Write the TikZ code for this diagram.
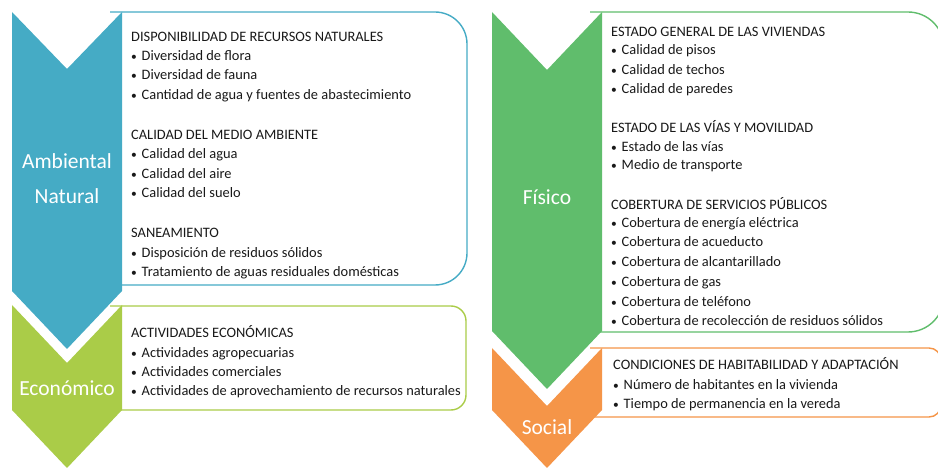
\documentclass[tikz,border=0pt]{standalone}
\usepackage{fontspec}
\setmainfont{Carlito}
\definecolor{cblue}{RGB}{69,171,197}
\definecolor{clime}{RGB}{170,204,72}
\definecolor{cgreen}{RGB}{96,189,108}
\definecolor{corange}{RGB}{245,149,72}
\definecolor{ctext}{RGB}{25,25,25}
\newcommand{\bl}{\makebox[10.5pt][l]{\raisebox{0.6pt}{\fontsize{11.5}{12}\selectfont •}}}
\tikzset{
  txt/.style={anchor=base west, inner sep=0pt, text=ctext, font=\fontsize{14.4}{17}\selectfont},
  lbl/.style={anchor=base, inner sep=0pt, text=white, font=\fontsize{21.5}{24}\selectfont},
  infobox/.style={fill=white, line width=1.4pt},
  chev/.style={draw=none}
}
\begin{document}
\begin{tikzpicture}[x=1pt,y=-1pt]
\useasboundingbox (0,0) rectangle (938,470);
\clip (0,0) rectangle (938,470);
% boxes
\draw[infobox, draw=cblue, rounded corners=32] (110,12) -- (467,12) -- (467,285) -- (110,285);
\draw[infobox, draw=clime, rounded corners=15] (110,306) -- (466,306) -- (466,410) -- (110,410);
\draw[infobox, draw=cgreen, rounded corners=36] (590,12) -- (944,12) -- (944,332) -- (590,332);
\draw[infobox, draw=corange, rounded corners=12] (590,348) -- (941,348) -- (941,417) -- (590,417);
% chevrons
\fill[cblue] (12,12) -- (67,69) -- (122,12) -- (122,291) -- (67,349) -- (12,291) -- cycle;
\fill[clime] (12,305) -- (67,363) -- (122,305) -- (122,410) -- (67,468) -- (12,410) -- cycle;
\fill[cgreen] (492,12) -- (547,70) -- (602,12) -- (602,331) -- (547,389) -- (492,331) -- cycle;
\fill[corange] (492,348) -- (547,406) -- (602,348) -- (602,410) -- (547,468) -- (492,410) -- cycle;
% labels
\node[lbl] (lamb) at (67,169) {Ambiental};
\node[lbl] (lnat) at (67,204) {Natural};
\node[lbl] (leco) at (67,396) {Económico};
\node[lbl] (lfis) at (547,205) {Físico};
\node[lbl] (lsoc) at (547,435) {Social};
% left top box text
\foreach \yy/\lab [count=\i] in {
  37/{DISPONIBILIDAD DE RECURSOS NATURALES},
  56/{\bl Diversidad de flora},
  75/{\bl Diversidad de fauna},
  95/{\bl Cantidad de agua y fuentes de abastecimiento},
  135/{CALIDAD DEL MEDIO AMBIENTE},
  154/{\bl Calidad del agua},
  174/{\bl Calidad del aire},
  193/{\bl Calidad del suelo},
  233/{SANEAMIENTO},
  253/{\bl Disposición de residuos sólidos},
  272/{\bl Tratamiento de aguas residuales domésticas}}
  \node[txt] (a\i) at (131,\yy+5) {\lab};
% economic box text
\foreach \yy/\lab [count=\i] in {
  333/{ACTIVIDADES ECONÓMICAS},
  353/{\bl Actividades agropecuarias},
  372/{\bl Actividades comerciales},
  391/{\bl Actividades de aprovechamiento de recursos naturales}}
  \node[txt] (e\i) at (131,\yy+5) {\lab};
% fisico box text
\foreach \yy/\lab [count=\i] in {
  32/{ESTADO GENERAL DE LAS VIVIENDAS},
  50/{\bl Calidad de pisos},
  70/{\bl Calidad de techos},
  89/{\bl Calidad de paredes},
  128/{ESTADO DE LAS VÍAS Y MOVILIDAD},
  147/{\bl Estado de las vías},
  165/{\bl Medio de transporte},
  205/{COBERTURA DE SERVICIOS PÚBLICOS},
  223/{\bl Cobertura de energía eléctrica},
  242/{\bl Cobertura de acueducto},
  262/{\bl Cobertura de alcantarillado},
  282/{\bl Cobertura de gas},
  302/{\bl Cobertura de teléfono},
  321/{\bl Cobertura de recolección de residuos sólidos}}
  \node[txt] (f\i) at (611,\yy+5) {\lab};
% social box text
\foreach \yy/\lab [count=\i] in {
  365/{CONDICIONES DE HABITABILIDAD Y ADAPTACIÓN},
  385/{\bl Número de habitantes en la vivienda},
  404/{\bl Tiempo de permanencia en la vereda}}
  \node[txt] (s\i) at (613,\yy+5) {\lab};
\end{tikzpicture}
\end{document}
